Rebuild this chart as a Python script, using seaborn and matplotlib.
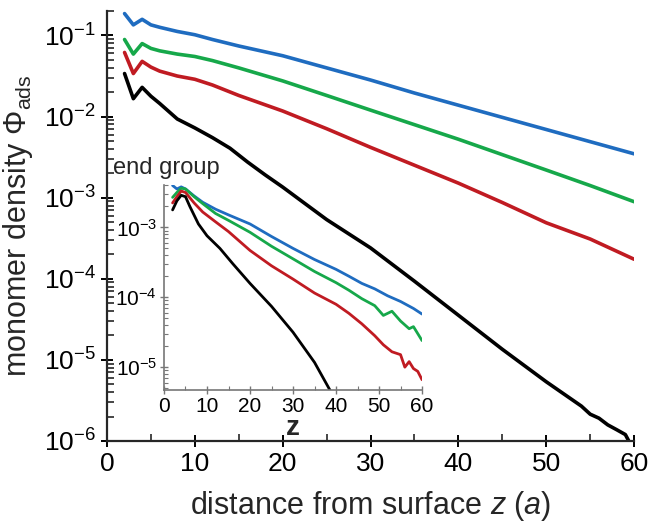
import numpy as np
import pandas as pd
import seaborn as sns
import matplotlib
matplotlib.use('Agg')
import matplotlib.pyplot as plt
from matplotlib.ticker import LogLocator, MultipleLocator, NullFormatter

# main panel: monomer density vs distance
z_main = [2, 3, 4, 5, 6, 8, 10, 12, 15, 20, 25, 30, 35, 40, 45, 50, 55, 60]
blue_main = [0.186, 0.135, 0.158, 0.135, 0.126, 0.112, 0.102, 0.0891, 0.0741, 0.0562,
             0.0398, 0.0282, 0.0195, 0.0138, 0.00977, 0.00692, 0.0049, 0.00347]
green_main = [0.0891, 0.0589, 0.0794, 0.0692, 0.0646, 0.0589, 0.0550, 0.0490, 0.0398, 0.0275,
              0.0182, 0.0120, 0.00794, 0.00525, 0.00339, 0.00219, 0.00141, 0.000891]
red_main = [0.0617, 0.0339, 0.0479, 0.0407, 0.0363, 0.0316, 0.0288, 0.0245, 0.0182, 0.0117,
            0.00708, 0.00417, 0.00251, 0.00151, 0.000871, 0.000490, 0.000309, 0.000174]
z_black = [2, 3, 4, 5, 6, 8, 10, 12, 14, 16, 18, 20, 22, 25, 30, 35, 40, 45, 50,
           52, 54, 55, 56, 57, 58, 59, 59.5]
black_main = [0.0339, 0.0166, 0.0229, 0.0178, 0.0145, 0.00933, 0.00724, 0.00550, 0.00407,
              0.00275, 0.00191, 0.00135, 0.000933, 0.000537, 0.000240, 9.33e-5, 3.55e-5,
              1.35e-5, 5.37e-6, 3.80e-6, 2.69e-6, 2.14e-6, 1.91e-6, 1.58e-6, 1.38e-6,
              1.20e-6, 9.5e-7]

# inset: end group density
z_in = [2, 3, 4, 5, 7, 9, 12, 15, 20, 25, 30, 35, 40, 43, 46, 49, 52, 55, 58, 60]
blue_in = [0.00398, 0.00355, 0.00380, 0.00355, 0.00282, 0.00229, 0.00182, 0.00151, 0.00112,
           0.000741, 0.000501, 0.000347, 0.000251, 0.000200, 0.000158, 0.000132, 0.000105,
           8.71e-5, 6.92e-5, 5.75e-5]
z_in_g = [2, 3, 4, 5, 7, 9, 12, 15, 20, 25, 30, 35, 40, 43, 46, 49, 51, 53, 55, 57, 58, 60]
green_in = [0.00269, 0.00316, 0.00363, 0.00355, 0.00275, 0.00219, 0.00158, 0.00126, 0.000851,
            0.000537, 0.000355, 0.000234, 0.000162, 0.000126, 9.55e-5, 7.59e-5, 5.50e-5,
            6.31e-5, 4.57e-5, 3.55e-5, 3.80e-5, 2.40e-5]
z_in_r = [2, 3, 4, 5, 7, 9, 12, 15, 20, 25, 30, 35, 40, 43, 46, 49, 51, 53, 55, 56, 57, 58, 59, 60]
red_in = [0.00224, 0.00275, 0.00331, 0.00316, 0.00224, 0.00166, 0.00120, 0.000871, 0.000468,
          0.000282, 0.000182, 0.000115, 7.94e-5, 5.89e-5, 4.17e-5, 2.82e-5, 2.09e-5, 1.66e-5,
          1.51e-5, 1.0e-5, 1.20e-5, 9.55e-6, 8.71e-6, 6.61e-6]
z_in_k = [2, 3, 4, 5, 6, 8, 10, 13, 16, 20, 25, 30, 35, 38.6]
black_in = [0.00178, 0.00240, 0.00288, 0.00275, 0.00200, 0.00112, 0.000759, 0.000501,
            0.000302, 0.000158, 7.41e-5, 3.16e-5, 1.17e-5, 4.68e-6]

colors = {'blue': '#1f6cc0', 'green': '#16a84a', 'red': '#c01b22', 'black': '#000000'}

sns.set_style('ticks')
plt.rcParams['font.family'] = ['Liberation Sans', 'DejaVu Sans']
plt.rcParams['mathtext.fontset'] = 'custom'
plt.rcParams['mathtext.rm'] = 'Liberation Sans'
plt.rcParams['mathtext.it'] = 'Liberation Sans:italic'
plt.rcParams['mathtext.default'] = 'regular'

fig = plt.figure(figsize=(6.5, 5.25), dpi=100)
ax = fig.add_axes([0.1646, 0.16, 0.811, 0.819])

main = [(z_main, blue_main, 'blue'), (z_main, green_main, 'green'),
        (z_main, red_main, 'red'), (z_black, black_main, 'black')]
for zs, ys, c in main:
    sns.lineplot(x=zs, y=ys, color=colors[c], lw=2.6, ax=ax, estimator=None)

ax.set_yscale('log')
ax.set_xlim(0, 60)
ax.set_ylim(1e-6, 0.2)
ax.xaxis.set_major_locator(MultipleLocator(10))
ax.xaxis.set_minor_locator(MultipleLocator(5))
ax.yaxis.set_major_locator(LogLocator(base=10, numticks=10))
ax.yaxis.set_minor_locator(LogLocator(base=10, subs=np.arange(2, 10), numticks=20))
ax.yaxis.set_minor_formatter(NullFormatter())
sns.despine(ax=ax)
for s in ['left', 'bottom']:
    ax.spines[s].set_linewidth(1.6)
ax.tick_params(which='major', direction='inout', length=9, width=1.4, labelsize=19, colors='black')
ax.tick_params(which='minor', direction='in', length=5, width=1.2)
ax.set_xlabel(r'distance from surface $\mathit{z}$ ($\mathit{a}$)', fontsize=22, labelpad=9)
ax.set_ylabel('monomer density Φ$_{ads}$', fontsize=22, labelpad=6)

# inset
axi = fig.add_axes([0.2523, 0.257, 0.397, 0.39])
inset = [(z_in, blue_in, 'blue'), (z_in_g, green_in, 'green'),
         (z_in_r, red_in, 'red'), (z_in_k, black_in, 'black')]
for zs, ys, c in inset:
    sns.lineplot(x=zs, y=ys, color=colors[c], lw=2.0, ax=axi, estimator=None)
axi.set_yscale('log')
axi.set_xlim(0, 60)
axi.set_ylim(4.7e-6, 4e-3)
axi.xaxis.set_major_locator(MultipleLocator(10))
axi.xaxis.set_minor_locator(MultipleLocator(5))
axi.yaxis.set_major_locator(LogLocator(base=10, numticks=10))
axi.yaxis.set_minor_locator(LogLocator(base=10, subs=np.arange(2, 10), numticks=20))
axi.yaxis.set_minor_formatter(NullFormatter())
axi.patch.set_alpha(0)
sns.despine(ax=axi)
for s in ['left', 'bottom']:
    axi.spines[s].set_color('#777777')
    axi.spines[s].set_linewidth(1.2)
axi.tick_params(which='major', direction='inout', length=6, width=1, color='#777777',
                labelsize=15, labelcolor='black', pad=2)
axi.tick_params(which='minor', direction='in', length=3, width=0.8, color='#777777')
axi.set_xlabel('z', fontsize=20, fontweight='bold', labelpad=-1)

fig.text(113 / 650, 1 - 174 / 525, 'end group', fontsize=17, ha='left', va='baseline')

fig.savefig('out.png', dpi=100)
